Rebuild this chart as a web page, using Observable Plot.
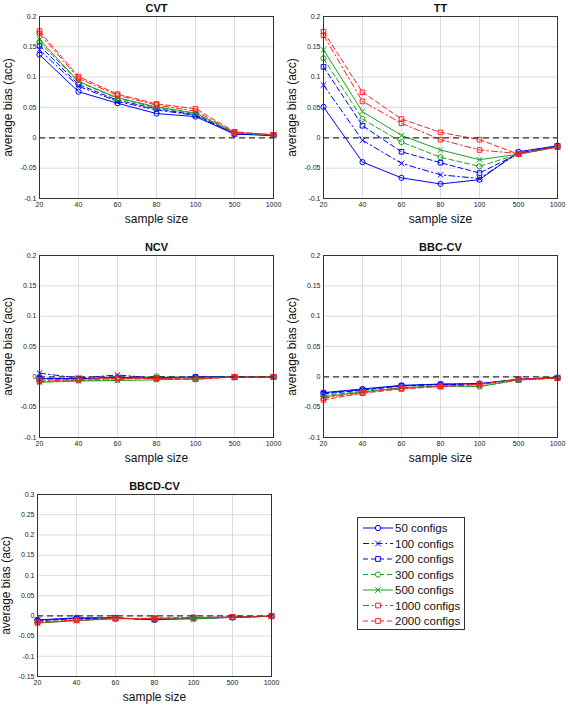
<!DOCTYPE html>
<html><head><meta charset="utf-8">
<script src="https://cdn.jsdelivr.net/npm/d3@7"></script>
<script src="https://cdn.jsdelivr.net/npm/@observablehq/plot@0.6"></script>
<style>
body{margin:0;background:#fff;}
#fig{position:relative;width:568px;height:705px;background:#fff;font-family:"Liberation Sans",Arial,sans-serif;overflow:hidden;}
#fig > svg{position:absolute;}
</style></head><body><div id="fig"></div>
<script>
// ---------- data ----------
const sampleSizes = [20, 40, 60, 80, 100, 500, 1000];
const configs = ["50 configs", "100 configs", "200 configs", "300 configs", "500 configs", "1000 configs", "2000 configs"];
const seriesColors = ["#0000ff", "#0000ff", "#0000ff", "#1f9f1f", "#1f9f1f", "#ff2020", "#ff2020"];
const seriesDash = ["none", "6,3,1.5,3", "5,3", "5,3", "none", "6,3,1.5,3", "5,3"];
const seriesSymbols = ["circle", "times", "square", "circle", "times", "square", "square"];

const yTicksMain = [-0.1, -0.05, 0, 0.05, 0.1, 0.15, 0.2];
const yTicksBBCD = [-0.15, -0.1, -0.05, 0, 0.05, 0.1, 0.15, 0.2, 0.25, 0.3];

const cvt = [
  [0.137, 0.076, 0.057, 0.040, 0.035, 0.006, 0.004],
  [0.145, 0.085, 0.060, 0.046, 0.037, 0.007, 0.004],
  [0.152, 0.088, 0.062, 0.048, 0.038, 0.007, 0.004],
  [0.158, 0.092, 0.065, 0.050, 0.040, 0.008, 0.005],
  [0.162, 0.093, 0.066, 0.051, 0.041, 0.008, 0.005],
  [0.172, 0.098, 0.070, 0.054, 0.044, 0.009, 0.005],
  [0.176, 0.101, 0.072, 0.056, 0.048, 0.010, 0.005]
];
const tt = [
  [0.051, -0.040, -0.066, -0.076, -0.069, -0.023, -0.013],
  [0.087, -0.004, -0.042, -0.061, -0.067, -0.025, -0.014],
  [0.117, 0.020, -0.023, -0.041, -0.058, -0.026, -0.014],
  [0.131, 0.031, -0.007, -0.032, -0.047, -0.027, -0.015],
  [0.145, 0.043, 0.004, -0.020, -0.036, -0.027, -0.015],
  [0.169, 0.060, 0.024, -0.003, -0.020, -0.026, -0.015],
  [0.175, 0.075, 0.031, 0.009, -0.003, -0.027, -0.015]
];
const ncv = [
  [-0.003, -0.003, -0.001, -0.002, 0.000, 0.000, 0.000],
  [0.006, -0.002, 0.003, -0.002, 0.000, 0.000, 0.000],
  [-0.002, -0.003, -0.002, -0.003, -0.001, -0.001, 0.000],
  [-0.008, -0.006, -0.005, 0.001, -0.002, 0.000, 0.000],
  [-0.009, -0.007, -0.006, -0.005, -0.003, 0.000, 0.000],
  [-0.007, -0.005, -0.003, -0.003, -0.004, 0.000, 0.000],
  [-0.005, -0.004, -0.002, -0.003, -0.004, 0.000, 0.000]
];
const bbccv = [
  [-0.026, -0.020, -0.014, -0.012, -0.011, -0.004, -0.001],
  [-0.027, -0.021, -0.015, -0.012, -0.012, -0.004, -0.001],
  [-0.028, -0.022, -0.015, -0.013, -0.012, -0.005, -0.002],
  [-0.031, -0.024, -0.018, -0.015, -0.016, -0.005, -0.002],
  [-0.033, -0.025, -0.018, -0.015, -0.016, -0.005, -0.002],
  [-0.035, -0.026, -0.019, -0.016, -0.013, -0.004, -0.002],
  [-0.038, -0.027, -0.020, -0.016, -0.012, -0.004, -0.002]
];
const bbcdcv = [
  [-0.010, -0.005, -0.005, -0.010, -0.006, -0.004, -0.001],
  [-0.011, -0.006, -0.005, -0.009, -0.006, -0.003, -0.001],
  [-0.012, -0.007, -0.006, -0.009, -0.006, -0.004, -0.001],
  [-0.016, -0.011, -0.006, -0.007, -0.007, -0.003, -0.001],
  [-0.018, -0.012, -0.007, -0.007, -0.008, -0.003, -0.001],
  [-0.015, -0.011, -0.007, -0.006, -0.004, -0.003, -0.001],
  [-0.017, -0.011, -0.007, -0.006, -0.004, -0.003, -0.001]
];

// ---------- layout ----------
const panels = [
  {title: "CVT", values: cvt, yTicks: yTicksMain, left: 0, top: 0, ml: 39, mr: 11},
  {title: "TT", values: tt, yTicks: yTicksMain, left: 284, top: 0, ml: 39, mr: 11},
  {title: "NCV", values: ncv, yTicks: yTicksMain, left: 0, top: 239, ml: 39, mr: 11},
  {title: "BBC-CV", values: bbccv, yTicks: yTicksMain, left: 284, top: 239, ml: 39, mr: 11},
  {title: "BBCD-CV", values: bbcdcv, yTicks: yTicksBBCD, left: 0, top: 478, ml: 37, mr: 13}
];

const fig = document.getElementById("fig");
const FONT = "'Liberation Sans', Arial, Helvetica, sans-serif";

for (const p of panels) {
  const marks = [
    Plot.gridX(sampleSizes, {stroke: "#dcdcdc", strokeOpacity: 1}),
    Plot.gridY(p.yTicks, {stroke: "#dcdcdc", strokeOpacity: 1}),
  ];
  p.values.forEach((vals, i) => {
    const rows = sampleSizes.map((s, j) => ({size: s, bias: vals[j]}));
    marks.push(Plot.line(rows, {x: "size", y: "bias", stroke: seriesColors[i], strokeWidth: 1,
      strokeDasharray: seriesDash[i] === "none" ? null : seriesDash[i]}));
    marks.push(Plot.dot(rows, {x: "size", y: "bias", stroke: seriesColors[i], fill: "none",
      symbol: seriesSymbols[i], r: 2.6, strokeWidth: 1}));
  });
  marks.push(
    Plot.ruleY([0], {stroke: "#333", strokeWidth: 1.3, strokeDasharray: "6,4"}),
    Plot.frame({stroke: "#333", strokeWidth: 1}),
    Plot.axisX({ticks: sampleSizes, tickFormat: d => String(d), tickSize: 0, tickPadding: 4, fontSize: 7, label: null, fill: "#222"}),
    Plot.axisY({ticks: p.yTicks, tickFormat: d => String(d), tickSize: 0, tickPadding: 3, fontSize: 7, label: null, fill: "#222"}),
    Plot.text([p.title], {text: d => d, frameAnchor: "top", lineAnchor: "middle", textAnchor: "middle", dy: -8, fontWeight: "bold", fontSize: 11, fill: "#111"}),
    Plot.text(["sample size"], {text: d => d, frameAnchor: "bottom", lineAnchor: "middle", textAnchor: "middle", dy: 21, fontSize: 12, fill: "#111"}),
    Plot.text(["average bias (acc)"], {text: d => d, frameAnchor: "left", lineAnchor: "middle", textAnchor: "middle", rotate: -90, dx: -31, fontSize: 12, fill: "#111"})
  );
  const svg = Plot.plot({
    width: 284, height: 235,
    marginTop: 16, marginBottom: 37, marginLeft: p.ml, marginRight: p.mr,
    style: {fontFamily: FONT, background: "transparent", overflow: "visible"},
    x: {type: "point", domain: sampleSizes, padding: 0},
    y: {domain: [p.yTicks[0], p.yTicks[p.yTicks.length - 1]]},
    marks
  });
  svg.style.left = p.left + "px";
  svg.style.top = p.top + "px";
  fig.appendChild(svg);
}

// ---------- legend ----------
const lg = d3.select(fig).append("svg")
  .attr("width", 108).attr("height", 113)
  .style("left", "357px").style("top", "517px")
  .style("font-family", FONT);
lg.append("rect").attr("x", 0.5).attr("y", 0.5).attr("width", 107).attr("height", 112)
  .attr("fill", "#fff").attr("stroke", "#333");
const symGen = {circle: d3.symbolCircle, times: d3.symbolTimes, square: d3.symbolSquare};
configs.forEach((name, i) => {
  const y = 11 + i * 15.5;
  const g = lg.append("g");
  g.append("line").attr("x1", 6).attr("x2", 36).attr("y1", y).attr("y2", y)
    .attr("stroke", seriesColors[i]).attr("stroke-width", 1)
    .attr("stroke-dasharray", seriesDash[i] === "none" ? null : seriesDash[i]);
  g.append("path").attr("transform", `translate(21,${y})`)
    .attr("d", d3.symbol(symGen[seriesSymbols[i]], 22)())
    .attr("fill", "#fff").attr("stroke", seriesColors[i]).attr("stroke-width", 1);
  g.append("text").attr("x", 38).attr("y", y).attr("dy", "0.35em")
    .attr("font-size", 11.5).attr("fill", "#111").text(name);
});
</script></body></html>
